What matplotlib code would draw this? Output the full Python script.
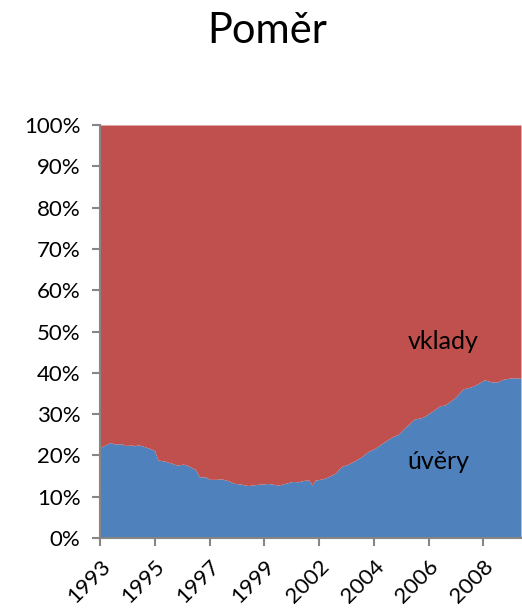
import matplotlib.pyplot as plt
import numpy as np

# months since Jan 1993, share of loans (%)
months = [0, 0.5, 2.5, 5, 7, 11, 12, 16, 17, 19, 22, 25.5, 27, 28.5, 32, 35.5, 38, 41, 43,
          47, 49, 52, 54, 57, 60, 63, 66.5, 69, 73, 78, 83, 88, 92.5, 95, 97.5, 101,
          103, 104.5, 106, 109.5, 112, 116, 119, 122, 125.5, 129, 132, 135.5, 139,
          144, 147, 150, 155, 159, 163.5, 167.5, 170, 175, 179, 183, 186, 189.5,
          193, 196, 198.5, 203, 207.5]
uvery = [21.7, 22.0, 22.5, 23.1, 22.8, 22.8, 22.4, 22.5, 22.3, 22.6, 22.1, 21.5, 21.1, 18.9,
         18.6, 18.1, 17.6, 17.9, 17.6, 16.6, 14.8, 14.8, 14.2, 14.2, 14.3, 13.9, 13.2,
         13.1, 12.7, 13.0, 13.2, 12.8, 13.4, 13.7, 13.6, 14.0, 14.0, 12.8, 14.0, 14.3,
         14.7, 15.7, 17.3, 17.8, 18.7, 19.7, 20.9, 21.7, 22.9, 24.5, 25.1, 26.6, 28.8,
         29.2, 30.6, 32.0, 32.2, 34.0, 36.1, 36.6, 37.3, 38.3, 37.8, 37.8, 38.4, 38.8,
         38.7]

tick_months = [0, 27, 54, 81, 108, 135, 162, 189]
tick_labels = ["1993", "1995", "1997", "1999", "2002", "2004", "2006", "2008"]

plt.rcParams['font.family'] = ['Lato', 'DejaVu Sans']

x = np.array(months)
loans = np.array(uvery)
deposits = 100 - loans

fig = plt.figure(figsize=(5.22, 6.09), dpi=100)
ax = fig.add_axes([100 / 522, 71 / 609, 421 / 522, 413 / 609])

ax.fill_between(x, 0, loans, color="#4F81BD", lw=0)
ax.fill_between(x, loans, loans + deposits, color="#C0504D", lw=0)

ax.set_xlim(0, x[-1])
ax.set_ylim(0, 100)

ax.set_yticks(np.arange(0, 101, 10))
ax.set_yticklabels([f"{v}%" for v in range(0, 101, 10)], fontsize=16)
ax.set_xticks(tick_months)
ax.set_xticklabels(tick_labels, fontsize=16, rotation=45, ha="right", va="top",
                   rotation_mode="anchor")

for side in ["top", "right"]:
    ax.spines[side].set_visible(False)
for side in ["left", "bottom"]:
    ax.spines[side].set_color("#868686")
    ax.spines[side].set_linewidth(1.5)
ax.tick_params(color="#868686", width=1.5, length=6, direction="out")
ax.tick_params(axis="y", pad=8)
ax.tick_params(axis="x", pad=7)

ax.text(169, 47.5, "vklady", fontsize=18, ha="center", va="center")
ax.text(167, 18.6, "úvěry", fontsize=18, ha="center", va="center")

fig.text(267 / 522, 1 - 31 / 609, "Poměr", fontsize=30, ha="center", va="center")

fig.savefig("out.png", dpi=100)
